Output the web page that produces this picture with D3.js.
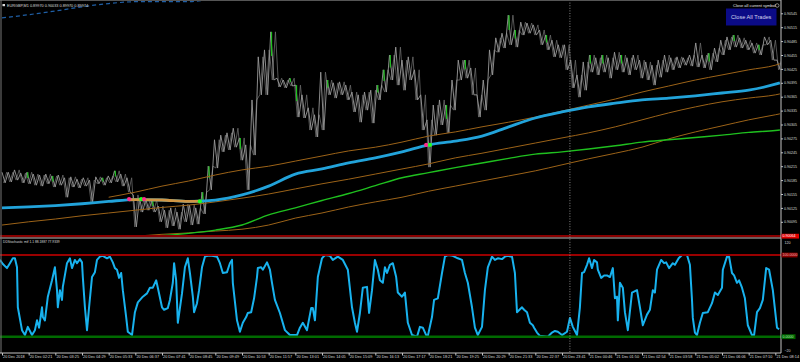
<!DOCTYPE html>
<html><head><meta charset="utf-8">
<script src="https://cdn.jsdelivr.net/npm/d3@7/dist/d3.min.js"></script>
<style>html,body{margin:0;padding:0;background:#000;overflow:hidden}svg{display:block}</style>
</head><body><svg id="c" width="800" height="362"></svg>
<script>
// ---------- DATA ----------
const symbolTitle = "EURGBP,M1  0.89970 0.90033 0.89970 0.89974";
const indicatorTitle = "DDStochastic mtf 1.1 88.1887 77.9339";
const timeLabels = ["20 Dec 2018","20 Dec 02:21","20 Dec 03:25","20 Dec 04:29","20 Dec 05:33","20 Dec 06:37","20 Dec 07:41","20 Dec 08:45","20 Dec 09:49","20 Dec 10:53","20 Dec 11:57","20 Dec 13:01","20 Dec 14:05","20 Dec 15:09","20 Dec 16:13","20 Dec 17:17","20 Dec 18:21","20 Dec 19:25","20 Dec 20:29","20 Dec 21:33","20 Dec 22:37","20 Dec 23:41","21 Dec 00:46","21 Dec 01:50","21 Dec 02:54","21 Dec 03:58","21 Dec 05:02","21 Dec 06:06","21 Dec 07:10","21 Dec 08:14"];
const labelStep = 64; // minutes between time labels
const priceTicks = [0.90545,0.90515,0.90485,0.90455,0.90425,0.90395,0.90365,0.90335,0.90305,0.90275,0.90245,0.90215,0.90185,0.90155,0.90125,0.90095];
const sampleStep = 15; // minutes between price samples
const priceHi = [0.90202,0.90202,0.90207,0.90200,0.90202,0.90198,0.90196,0.90198,0.90194,0.90196,
0.90190,0.90192,0.90187,0.90190,0.90185,0.90192,0.90190,0.90194,0.90205,0.90198,
0.90190,0.90153,0.90146,0.90144,0.90142,0.90129,0.90120,0.90125,0.90116,0.90133,
0.90131,0.90125,0.90159,0.90215,0.90272,0.90282,0.90287,0.90297,0.90276,0.90261,
0.90358,0.90451,0.90466,0.90505,0.90405,0.90401,0.90405,0.90390,0.90369,0.90341,
0.90326,0.90418,0.90401,0.90395,0.90397,0.90390,0.90375,0.90369,0.90375,0.90379,
0.90390,0.90423,0.90455,0.90472,0.90444,0.90451,0.90423,0.90369,0.90315,0.90347,
0.90358,0.90347,0.90401,0.90444,0.90444,0.90427,0.90369,0.90401,0.90466,0.90492,
0.90502,0.90541,0.90509,0.90526,0.90524,0.90520,0.90509,0.90498,0.90487,0.90477,
0.90477,0.90444,0.90412,0.90440,0.90455,0.90449,0.90455,0.90449,0.90461,0.90455,
0.90449,0.90455,0.90444,0.90440,0.90433,0.90444,0.90455,0.90449,0.90451,0.90449,
0.90455,0.90481,0.90455,0.90459,0.90470,0.90487,0.90494,0.90498,0.90492,0.90487,
0.90481,0.90477,0.90494,0.90487,0.90444];
const priceLo = [0.90179,0.90181,0.90185,0.90179,0.90177,0.90174,0.90172,0.90177,0.90170,0.90174,
0.90148,0.90170,0.90168,0.90172,0.90138,0.90177,0.90174,0.90179,0.90181,0.90172,
0.90159,0.90084,0.90116,0.90120,0.90116,0.90095,0.90082,0.90086,0.90079,0.90095,
0.90088,0.90090,0.90112,0.90164,0.90211,0.90246,0.90250,0.90256,0.90228,0.90164,
0.90239,0.90369,0.90369,0.90401,0.90386,0.90384,0.90388,0.90321,0.90319,0.90293,
0.90278,0.90293,0.90369,0.90362,0.90369,0.90358,0.90332,0.90310,0.90336,0.90308,
0.90358,0.90375,0.90401,0.90390,0.90379,0.90401,0.90358,0.90293,0.90213,0.90282,
0.90304,0.90287,0.90336,0.90401,0.90405,0.90369,0.90321,0.90336,0.90412,0.90461,
0.90470,0.90477,0.90472,0.90498,0.90502,0.90498,0.90477,0.90466,0.90451,0.90449,
0.90423,0.90384,0.90364,0.90379,0.90418,0.90412,0.90418,0.90405,0.90423,0.90418,
0.90412,0.90423,0.90405,0.90401,0.90390,0.90407,0.90418,0.90423,0.90427,0.90433,
0.90431,0.90429,0.90427,0.90423,0.90440,0.90455,0.90466,0.90472,0.90470,0.90466,
0.90459,0.90455,0.90477,0.90444,0.90423];
const upSamples = [4,8,16,18,24,32,33,38,43,46,47,52,60,61,62,71,74,81,82,87,94,96,99,113,117,121];

const maT = [0,64,128,192,256,320,384,448,512,576,640,704,768,832,896,960,1024,1088,1152,1216,1280,1344,1408,1472,1536,1600,1664,1728,1792,1856,1867];
const maBlue = [0.90125,0.90127,0.90130,0.90134,0.90139,0.90143,0.90142,0.90139,0.90142,0.90153,0.90172,0.90198,0.90209,0.90222,0.90233,0.90246,0.90261,0.90269,0.90280,0.90300,0.90319,0.90332,0.90343,0.90351,0.90358,0.90362,0.90367,0.90373,0.90379,0.90392,0.90395];
const maGreen = [null,null,null,null,0.90058,0.90062,0.90065,0.90070,0.90077,0.90088,0.90110,0.90125,0.90141,0.90156,0.90173,0.90190,0.90201,0.90212,0.90222,0.90232,0.90241,0.90246,0.90252,0.90259,0.90267,0.90272,0.90277,0.90282,0.90288,0.90292,0.90293];
const envUpper = [null,null,null,null,0.90148,0.90159,0.90172,0.90183,0.90196,0.90207,0.90215,0.90226,0.90237,0.90248,0.90256,0.90267,0.90280,0.90289,0.90300,0.90310,0.90321,0.90334,0.90347,0.90360,0.90375,0.90388,0.90401,0.90412,0.90423,0.90433,0.90436];
const envMid = [0.90088,0.90095,0.90101,0.90108,0.90114,0.90120,0.90126,0.90131,0.90138,0.90146,0.90155,0.90166,0.90177,0.90187,0.90198,0.90209,0.90220,0.90233,0.90243,0.90254,0.90265,0.90276,0.90287,0.90300,0.90315,0.90330,0.90343,0.90354,0.90362,0.90369,0.90371];
const envLower = [null,null,0.90060,0.90061,0.90062,0.90064,0.90068,0.90071,0.90075,0.90079,0.90088,0.90103,0.90114,0.90127,0.90138,0.90148,0.90161,0.90172,0.90183,0.90194,0.90205,0.90218,0.90231,0.90243,0.90256,0.90274,0.90289,0.90302,0.90315,0.90326,0.90328];
const maTop = [0.90535,0.90542,0.90550,0.90559,0.90566,0.90570,0.90570,0.90570,0.90578,null,null,null,null,null,null,null,null,null,null,null,null,null,null,null,null,null,null,null,null,null,null];
const blueAltRange = [305, 475]; // minutes where the blue MA turns orange

const signalT = [305, 334, 341, 475, 1018, 1027];
const signalP = [0.90144, 0.90144, 0.90144, 0.90139, 0.90261, 0.90261];
const signalKind = ["down","up","down","up","down","up"];

const levelPrice = 0.90064;
const daySepT = 1363;

const stochT = [-5,2,12,19,26,31,36,38,48,55,62,72,79,84,89,96,98,103,110,120,127,132,134,139,144,146,156,163,168,175,180,187,192,194,199,204,209,216,223,228,235,242,252,259,266,271,276,281,286,290,298,302,312,319,326,338,348,355,362,370,374,384,389,398,403,410,413,418,422,432,439,446,451,458,461,468,473,480,487,494,504,516,523,530,540,547,552,554,564,571,578,586,590,598,605,612,614,622,626,636,643,648,655,667,679,691,708,715,722,732,742,746,751,758,768,775,787,794,806,818,830,840,847,852,859,866,876,881,888,895,902,907,914,919,924,931,938,946,950,960,967,974,984,996,1003,1010,1018,1022,1032,1037,1046,1056,1063,1070,1082,1094,1104,1111,1118,1128,1135,1142,1152,1159,1166,1176,1183,1190,1200,1207,1214,1224,1231,1236,1248,1253,1260,1267,1274,1277,1284,1291,1310,1320,1327,1334,1344,1356,1363,1370,1380,1387,1392,1397,1404,1409,1416,1421,1428,1430,1438,1445,1452,1459,1466,1471,1476,1478,1483,1490,1495,1502,1512,1524,1531,1538,1548,1555,1562,1567,1572,1582,1589,1594,1601,1610,1615,1624,1632,1644,1651,1656,1658,1663,1668,1675,1682,1694,1704,1711,1718,1728,1730,1740,1745,1752,1757,1764,1769,1776,1783,1790,1800,1805,1812,1819,1826,1834,1841,1850,1860,1865];
const stochV = [94,89,84,90,96,96,85,36,8,2,12,2,8,20,11,36,24,20,49,69,85,57,36,57,45,61,90,96,84,94,90,95,91,73,36,8,36,73,79,94,98,99,96,98,91,84,82,72,78,57,24,6,2,30,42,49,53,60,60,69,60,36,33,35,45,66,90,69,17,53,85,96,78,49,30,41,57,85,98,99,99,98,90,78,79,90,94,66,20,6,17,24,29,30,47,73,84,85,82,91,82,66,45,29,8,2,2,11,17,8,35,35,20,73,96,100,99,94,98,94,82,36,17,6,29,60,61,29,57,94,82,69,66,85,78,88,90,73,54,49,54,17,2,0,12,11,2,1,24,45,47,78,98,100,99,96,94,78,66,36,11,2,12,57,85,98,94,96,95,98,99,98,78,30,36,33,30,17,14,11,5,1,0,5,7,6,2,6,23,12,2,36,78,79,88,96,84,94,91,82,72,75,75,73,84,47,49,20,66,60,30,8,54,57,36,14,27,33,57,54,82,94,90,91,84,90,88,96,100,100,88,45,23,5,2,17,29,30,41,54,51,60,82,98,98,78,75,66,69,60,47,14,2,2,30,35,45,84,82,57,11,9];
const stochLevels = [100, 0];
const stochTicks = [120, -20];

// ---------- SCALES ----------
const svg = d3.select("#c");
const AX = 781;
const x = d3.scaleLinear().domain([0, 1856]).range([2, 775.33]);
const yP = d3.scaleLinear().domain([0.90545, 0.90095]).range([13.3, 221.8]);
const yS = d3.scaleLinear().domain([120, -20]).range([238.7, 353]);
const FONT = "Liberation Sans, Arial, sans-serif";
const TXT = "#dcdcdc";

svg.append("rect").attr("width", 800).attr("height", 362).attr("fill", "#000");
const defs = svg.append("defs");
defs.append("clipPath").attr("id", "cm").append("rect").attr("x", 0).attr("y", 0).attr("width", AX).attr("height", 237);
defs.append("clipPath").attr("id", "cs").append("rect").attr("x", 0).attr("y", 239).attr("width", AX).attr("height", 114);
defs.append("clipPath").attr("id", "co").append("rect")
  .attr("x", x(blueAltRange[0])).attr("y", 0).attr("width", x(blueAltRange[1]) - x(blueAltRange[0])).attr("height", 237);

// ---------- MAIN PANEL ----------
const main = svg.append("g").attr("clip-path", "url(#cm)");
const band = priceHi.map((h, i) => ({ t: i * sampleStep, hi: h, lo: priceLo[i] }));
// price drawn as two interleaved jagged high/low traces
const zigA = [], zigB = [];
band.forEach(d => {
  zigA.push([x(d.t), yP(d.hi)]);
  zigA.push([x(d.t + sampleStep / 2), yP(d.lo)]);
  zigB.push([x(d.t + sampleStep / 4), yP(d.lo)]);
  zigB.push([x(d.t + sampleStep * 3 / 4), yP(d.hi)]);
});
main.append("path").datum(zigB).attr("d", d3.line())
  .attr("fill", "none").attr("stroke", "#6a6a6a").attr("stroke-width", 0.8).attr("stroke-linejoin", "bevel");
main.append("path").datum(zigA).attr("d", d3.line())
  .attr("fill", "none").attr("stroke", "#9a9a9a").attr("stroke-width", 0.9).attr("stroke-linejoin", "bevel");
main.append("g").selectAll("line").data(upSamples.map(i => band[i])).join("line")
  .attr("x1", d => x(d.t) + 0.8).attr("x2", d => x(d.t) + 0.8)
  .attr("y1", d => yP(d.hi)).attr("y2", d => yP((d.hi + d.lo) / 2))
  .attr("stroke", "#1ec21e").attr("stroke-width", 1.2);

function maLine(vals) {
  return d3.line().defined((d, i) => vals[i] != null).x((d, i) => x(maT[i])).y((d, i) => yP(vals[i])).curve(d3.curveMonotoneX)(vals);
}
[envUpper, envMid, envLower].forEach(v => {
  main.append("path").attr("d", maLine(v)).attr("fill", "none").attr("stroke", "#9c6318").attr("stroke-width", 1);
});
main.append("path").attr("d", maLine(maTop)).attr("fill", "none").attr("stroke", "#1f5fa6").attr("stroke-width", 1.2).attr("stroke-dasharray", "4,3");
main.append("path").attr("d", maLine(maGreen)).attr("fill", "none").attr("stroke", "#1fc01f").attr("stroke-width", 1.4);
main.append("path").attr("d", maLine(maBlue)).attr("fill", "none").attr("stroke", "#22a3da").attr("stroke-width", 2.8);
main.append("g").attr("clip-path", "url(#co)").append("path").attr("d", maLine(maBlue))
  .attr("fill", "none").attr("stroke", "#cf9645").attr("stroke-width", 2.8);
main.append("g").selectAll("circle").data(signalT).join("circle")
  .attr("cx", d => x(d)).attr("cy", (d, i) => yP(signalP[i])).attr("r", 2.1)
  .attr("fill", (d, i) => signalKind[i] === "up" ? "#22ff22" : "#ff2a8c");

// level line
svg.append("line").attr("x1", 0).attr("x2", AX).attr("y1", yP(levelPrice)).attr("y2", yP(levelPrice))
  .attr("stroke", "#8a0000").attr("stroke-width", 2.2);
// panel separator
svg.append("line").attr("x1", 0).attr("x2", AX).attr("y1", 238).attr("y2", 238).attr("stroke", "#bdbdbd").attr("stroke-width", 1);

// ---------- STOCH PANEL ----------
const sp = svg.append("g").attr("clip-path", "url(#cs)");
const lvlColors = ["#9a0000", "#006a00"];
stochLevels.forEach((v, i) => {
  svg.append("line").attr("x1", 0).attr("x2", AX).attr("y1", yS(v)).attr("y2", yS(v))
    .attr("stroke", lvlColors[i]).attr("stroke-width", i ? 2.5 : 2);
});
sp.append("path").attr("d", d3.line().x((d, i) => x(stochT[i])).y(d => yS(d))(stochV))
  .attr("fill", "none").attr("stroke", "#18b2ee").attr("stroke-width", 2).attr("stroke-linejoin", "round");

// ---------- FRAME ----------
svg.append("line").attr("x1", x(daySepT)).attr("x2", x(daySepT)).attr("y1", 0).attr("y2", 353)
  .attr("stroke", "#a8a8a8").attr("stroke-width", 0.8).attr("stroke-dasharray", "1,1.6");
svg.append("line").attr("x1", 0).attr("x2", AX).attr("y1", 0.5).attr("y2", 0.5).attr("stroke", "#555");
svg.append("line").attr("x1", 1).attr("x2", 1).attr("y1", 0).attr("y2", 353).attr("stroke", "#777");
svg.append("line").attr("x1", AX).attr("x2", AX).attr("y1", 0).attr("y2", 353).attr("stroke", "#c4c4c4");
svg.append("line").attr("x1", 0).attr("x2", AX).attr("y1", 353).attr("y2", 353).attr("stroke", "#c4c4c4");

// ---------- AXES ----------
const pAxis = svg.append("g").attr("transform", `translate(${AX},0)`)
  .call(d3.axisRight(yP).tickValues(priceTicks).tickSize(2).tickPadding(1).tickFormat(d3.format(".5f")));
pAxis.select(".domain").remove();
pAxis.selectAll("line").attr("stroke", "#c4c4c4");
pAxis.selectAll("text").attr("fill", TXT).attr("font-family", FONT).attr("font-size", "3.6px");

const sAxis = svg.append("g").attr("transform", `translate(${AX},0)`)
  .call(d3.axisRight(yS).tickValues(stochTicks).tickSize(2).tickPadding(1.5));
sAxis.select(".domain").remove();
sAxis.selectAll("line").remove();
sAxis.selectAll("text").attr("fill", TXT).attr("font-family", FONT).attr("font-size", "3.6px")
  .attr("dy", d => d > 50 ? "1.3em" : "-0.5em");

// level labels
function tag(y, txt, bg, fg, w) {
  svg.append("rect").attr("x", AX + 0.5).attr("y", y - 2.4).attr("width", w).attr("height", 4.8).attr("fill", bg);
  svg.append("text").attr("x", AX + 1.5).attr("y", y).attr("dy", "0.35em").text(txt)
    .attr("fill", fg).attr("font-family", FONT).attr("font-size", "3.6px");
}
tag(yP(levelPrice), d3.format(".5f")(levelPrice), "#e00000", "#ffffff", 17.5);
tag(yS(stochLevels[0]), d3.format(".4f")(stochLevels[0]), "#8a0000", "#f0b4b4", 16);
tag(yS(stochLevels[1]), d3.format(".4f")(stochLevels[1]), "#006400", "#b4f0b4", 14);

const tAxis = svg.append("g").attr("transform", "translate(0,353)")
  .call(d3.axisBottom(x).tickValues(timeLabels.map((d, i) => i * labelStep)).tickSize(2.5)
    .tickFormat((d, i) => timeLabels[i]));
tAxis.select(".domain").remove();
tAxis.selectAll("line").attr("stroke", "#c4c4c4");
tAxis.selectAll("text").attr("fill", TXT).attr("font-family", FONT).attr("font-size", "3.8px")
  .attr("text-anchor", "start").attr("x", 0.6).attr("y", 2.8).attr("dy", "0.71em");

// ---------- TEXTS / BUTTON ----------
svg.append("rect").attr("x", 2.5).attr("y", 4).attr("width", 2.5).attr("height", 2.2).attr("fill", "#dcdcdc");
svg.append("text").attr("x", 7).attr("y", 6.6).text(symbolTitle)
  .attr("fill", TXT).attr("font-family", FONT).attr("font-size", "3.8px");
svg.append("text").attr("x", 3).attr("y", 242.6).text(indicatorTitle)
  .attr("fill", TXT).attr("font-family", FONT).attr("font-size", "3.3px");
svg.append("text").attr("x", 733).attr("y", 6.8).text("Close all current symbol")
  .attr("fill", "#e6e6e6").attr("font-family", FONT).attr("font-size", "4px");
svg.append("circle").attr("cx", 777.2).attr("cy", 5.5).attr("r", 1.8).attr("fill", "none").attr("stroke", "#cfcfcf").attr("stroke-width", 0.6);
svg.append("rect").attr("x", 726).attr("y", 8.5).attr("width", 50.5).attr("height", 17).attr("fill", "#0b0b86");
svg.append("text").attr("x", 751.2).attr("y", 17).attr("dy", "0.35em").attr("text-anchor", "middle").text("Close All Trades")
  .attr("fill", "#d4d6ee").attr("font-family", FONT).attr("font-size", "5.6px");
</script></body></html>
